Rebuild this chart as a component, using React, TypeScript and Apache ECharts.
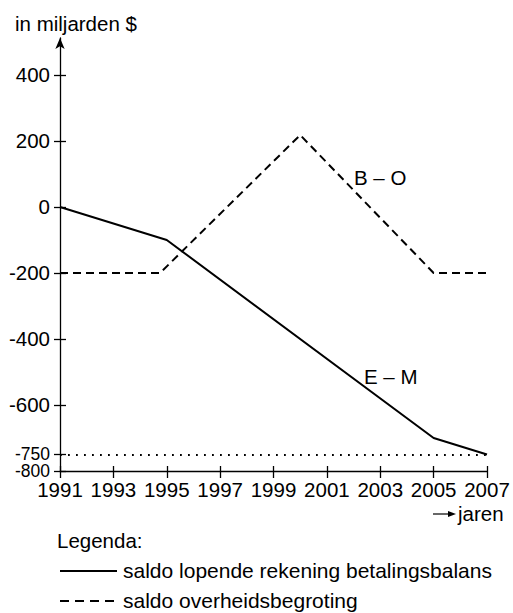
import React, { useEffect, useRef } from "react";
import * as echarts from "echarts";

const xTicks = [1991, 1993, 1995, 1997, 1999, 2001, 2003, 2005, 2007];
const emPoints: [number, number][] = [[1991, 0], [1995, -100], [2005, -700], [2007, -750]];
const boPoints: [number, number][] = [[1991, -200], [1994.75, -200], [2000, 218], [2005, -200], [2007, -200]];
const yTicks = [400, 200, 0, -200, -400, -600, -750, -800];
const refLevel = -750;
const yMin = -800;
const yMax = 512;
const xMin = 1991;
const xMax = 2007;
const legendTexts = ["saldo lopende rekening betalingsbalans", "saldo overheidsbegroting"];

const FONT = "'Liberation Sans', Arial, Helvetica, sans-serif";
const FS = 20.5;

export default function App() {
  const ref = useRef<HTMLDivElement>(null);
  useEffect(() => {
    if (!ref.current) return;
    const chart = echarts.init(ref.current, undefined, { renderer: "svg" });
    const tickStyle = { color: "#000", width: 1.3 };
    const mainLabels = yTicks.filter((v) => v !== refLevel && v !== yMin);
    const txt = (x: number, y: number, text: string, fs: number = FS) => ({
      type: "text",
      x,
      y,
      style: { text, fontSize: fs, fontFamily: FONT, fill: "#000", align: "left", verticalAlign: "middle" },
    });
    const labelAxis = (values: number[], fs: number, padding: number[]) => ({
      type: "value",
      min: yMin,
      max: yMax,
      position: "left",
      axisLine: { show: false, onZero: false },
      axisTick: { show: false },
      axisLabel: { color: "#000", fontSize: fs, lineHeight: fs, padding, margin: 10, fontFamily: FONT, customValues: values, showMinLabel: true, showMaxLabel: true, hideOverlap: false },
      splitLine: { show: false },
    });
    chart.setOption({
      animation: false,
      backgroundColor: "#fff",
      textStyle: { fontFamily: FONT },
      grid: { left: 60, right: 26, top: 38, bottom: 142 },
      xAxis: [
        {
          type: "value",
          min: xMin,
          max: xMax,
          axisLine: { onZero: false, lineStyle: { color: "#000", width: 1.3 } },
          axisTick: { show: true, length: 7, lineStyle: tickStyle, customValues: xTicks },
          axisLabel: { color: "#000", fontSize: FS, margin: 8, fontFamily: FONT, customValues: xTicks, showMinLabel: true, showMaxLabel: true, hideOverlap: false, formatter: (v: number) => String(v) },
          splitLine: { show: false },
        },
        {
          type: "value",
          min: xMin,
          max: xMax,
          position: "bottom",
          axisLine: { show: false, onZero: false },
          axisTick: { show: true, inside: true, length: 5, lineStyle: tickStyle, customValues: xTicks },
          axisLabel: { show: false, customValues: xTicks },
          splitLine: { show: false },
        },
      ],
      yAxis: [
        {
          type: "value",
          min: yMin,
          max: yMax,
          axisLine: { show: true, onZero: false, lineStyle: { color: "#000", width: 1.3 }, symbol: ["none", "arrow"], symbolSize: [7, 11] },
          axisTick: { show: true, length: 6, lineStyle: tickStyle, customValues: yTicks },
          axisLabel: { color: "#000", fontSize: FS, margin: 10, fontFamily: FONT, customValues: mainLabels, showMinLabel: true, showMaxLabel: true, hideOverlap: false },
          splitLine: { show: false },
        },
        {
          type: "value",
          min: yMin,
          max: yMax,
          position: "left",
          axisLine: { show: false, onZero: false },
          axisTick: { show: true, inside: true, length: 6, lineStyle: tickStyle, customValues: yTicks },
          axisLabel: { show: false, customValues: yTicks },
          splitLine: { show: false },
        },
        labelAxis([refLevel], 17.5, [0, 0, 5, 0]),
        labelAxis([yMin], 17.5, [5, 0, 0, 0]),
      ],
      series: [
        {
          type: "line",
          data: emPoints,
          symbol: "none",
          lineStyle: { color: "#000", width: 2 },
          markLine: {
            silent: true,
            symbol: "none",
            label: { show: false },
            lineStyle: { color: "#000", width: 1.8, type: [1.8, 6.2] },
            data: [{ yAxis: refLevel }],
          },
        },
        {
          type: "line",
          data: boPoints,
          symbol: "none",
          lineStyle: { color: "#000", width: 2, type: [8, 5] },
        },
      ],
      graphic: [
        txt(15, 23, "in miljarden $"),
        txt(354, 177, "B – O"),
        txt(364, 376, "E – M"),
        { type: "line", shape: { x1: 433, y1: 514, x2: 450, y2: 514 }, style: { stroke: "#000", lineWidth: 1.2 } },
        { type: "polygon", shape: { points: [[456, 514], [448, 511], [448, 517]] }, style: { fill: "#000" } },
        txt(458, 513, "jaren"),
        txt(57, 540, "Legenda:"),
        { type: "line", shape: { x1: 60, y1: 571, x2: 117, y2: 571 }, style: { stroke: "#000", lineWidth: 2 } },
        txt(123, 570, legendTexts[0], 21),
        { type: "line", shape: { x1: 60, y1: 601, x2: 117, y2: 601 }, style: { stroke: "#000", lineWidth: 2, lineDash: [9, 6] } },
        txt(123, 600, legendTexts[1], 21),
      ],
    });
    return () => chart.dispose();
  }, []);
  return <div ref={ref} style={{ position: "absolute", left: 0, top: 0, width: 513, height: 613 }} />;
}
